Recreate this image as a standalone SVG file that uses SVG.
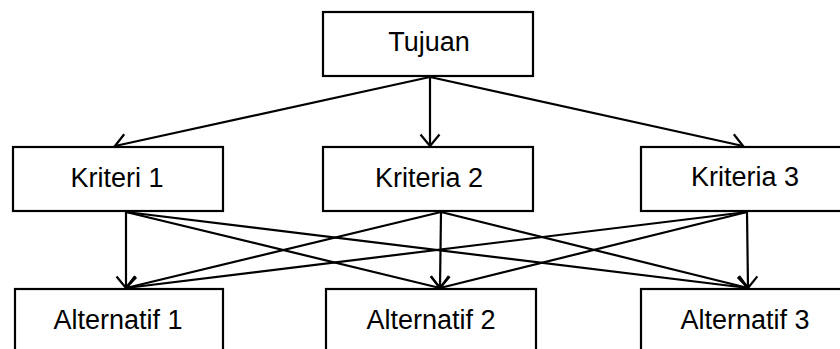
<svg xmlns="http://www.w3.org/2000/svg" width="840" height="349" viewBox="0 0 840 349">
<style>
.box{fill:#ffffff;stroke:#000000;stroke-width:2.2}
.lbl{font-family:"Liberation Sans",Arial,sans-serif;font-size:27px;fill:#000000;text-anchor:middle}
.con line{stroke:#000000;stroke-width:2.2;fill:none;marker-end:url(#arr)}
</style>
<defs>
<marker id="arr" markerUnits="userSpaceOnUse" viewBox="-14 -12 16 24" markerWidth="16" markerHeight="24" refX="0" refY="0" orient="auto" overflow="visible">
<path d="M-11.5,-9.5 L0,0 L-11.5,9.5" fill="none" stroke="#000000" stroke-width="2.2"/>
</marker>
</defs>
<rect width="840" height="349" fill="#ffffff"/>
<g id="connectors" class="con">
<line x1="430" y1="77" x2="115" y2="146"/>
<line x1="430" y1="77" x2="430" y2="146"/>
<line x1="430" y1="77" x2="743" y2="146"/>
<line x1="126" y1="212" x2="126" y2="288"/>
<line x1="126" y1="212" x2="440" y2="288"/>
<line x1="126" y1="212" x2="748" y2="288"/>
<line x1="441" y1="212" x2="126" y2="288"/>
<line x1="441" y1="212" x2="440" y2="288"/>
<line x1="441" y1="212" x2="748" y2="288"/>
<line x1="747" y1="212" x2="126" y2="288"/>
<line x1="747" y1="212" x2="440" y2="288"/>
<line x1="747" y1="212" x2="748" y2="288"/>
</g>
<g id="tujuan">
<rect class="box" x="323" y="12" width="210" height="64"/>
<text class="lbl" x="429" y="51">Tujuan</text>
</g>
<g id="kriteria1">
<rect class="box" x="13" y="147" width="210" height="64"/>
<text class="lbl" x="117" y="187">Kriteri 1</text>
</g>
<g id="kriteria2">
<rect class="box" x="323" y="147" width="210" height="64"/>
<text class="lbl" x="429" y="187">Kriteria 2</text>
</g>
<g id="kriteria3">
<rect class="box" x="641" y="147" width="212" height="64"/>
<text class="lbl" x="745" y="186">Kriteria 3</text>
</g>
<g id="alternatif1">
<rect class="box" x="15" y="289" width="208" height="70"/>
<text class="lbl" x="118" y="329">Alternatif 1</text>
</g>
<g id="alternatif2">
<rect class="box" x="326" y="289" width="210" height="70"/>
<text class="lbl" x="431" y="329">Alternatif 2</text>
</g>
<g id="alternatif3">
<rect class="box" x="641" y="289" width="212" height="70"/>
<text class="lbl" x="745" y="329">Alternatif 3</text>
</g>
</svg>
